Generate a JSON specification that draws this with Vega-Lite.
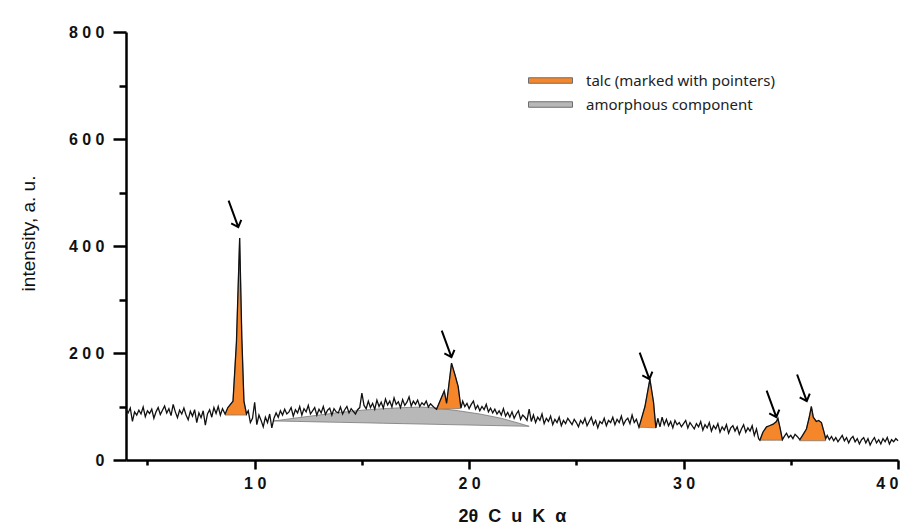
{
  "$schema": "https://vega.github.io/schema/vega-lite/v6.json",
  "width": 772,
  "height": 428,
  "autosize": {"type": "none"},
  "padding": {"left": 126, "top": 32, "right": 9, "bottom": 71},
  "background": "white",
  "config": {"view": {"stroke": null}},
  "datasets": {
    "line": [
      {"t":4.0,"i":95},{"t":4.1,"i":88},{"t":4.2,"i":97},{"t":4.3,"i":72},{"t":4.4,"i":90},{"t":4.5,"i":84},{"t":4.6,"i":93},{"t":4.7,"i":86},{"t":4.8,"i":99},{"t":4.9,"i":81},
      {"t":5.0,"i":92},{"t":5.1,"i":87},{"t":5.2,"i":95},{"t":5.3,"i":78},{"t":5.4,"i":90},{"t":5.5,"i":98},{"t":5.6,"i":85},{"t":5.7,"i":93},{"t":5.8,"i":101},{"t":5.9,"i":88},
      {"t":6.0,"i":96},{"t":6.1,"i":83},{"t":6.2,"i":104},{"t":6.3,"i":90},{"t":6.4,"i":79},{"t":6.5,"i":93},{"t":6.6,"i":86},{"t":6.7,"i":97},{"t":6.8,"i":84},{"t":6.9,"i":75},
      {"t":7.0,"i":91},{"t":7.1,"i":82},{"t":7.2,"i":94},{"t":7.3,"i":70},{"t":7.4,"i":88},{"t":7.5,"i":79},{"t":7.6,"i":92},{"t":7.7,"i":65},{"t":7.8,"i":86},{"t":7.9,"i":94},
      {"t":8.0,"i":80},{"t":8.1,"i":98},{"t":8.2,"i":87},{"t":8.3,"i":100},{"t":8.4,"i":84},{"t":8.5,"i":96},{"t":8.62,"i":86},{"t":8.75,"i":98},{"t":8.99,"i":110},{"t":9.15,"i":220},
      {"t":9.3,"i":415},{"t":9.4,"i":230},{"t":9.5,"i":110},{"t":9.62,"i":86},{"t":9.7,"i":92},{"t":9.8,"i":70},{"t":9.9,"i":78},
      {"t":10.0,"i":108},{"t":10.1,"i":66},{"t":10.2,"i":84},{"t":10.3,"i":74},{"t":10.4,"i":62},{"t":10.5,"i":80},{"t":10.6,"i":70},{"t":10.7,"i":86},{"t":10.8,"i":60},{"t":10.9,"i":78},
      {"t":11.0,"i":88},{"t":11.1,"i":80},{"t":11.2,"i":92},{"t":11.3,"i":84},{"t":11.4,"i":95},{"t":11.5,"i":86},{"t":11.6,"i":90},{"t":11.7,"i":98},{"t":11.8,"i":82},{"t":11.9,"i":94},
      {"t":12.0,"i":88},{"t":12.1,"i":100},{"t":12.2,"i":84},{"t":12.3,"i":96},{"t":12.4,"i":90},{"t":12.5,"i":102},{"t":12.6,"i":86},{"t":12.7,"i":92},{"t":12.8,"i":98},{"t":12.9,"i":84},
      {"t":13.0,"i":95},{"t":13.1,"i":88},{"t":13.2,"i":100},{"t":13.3,"i":85},{"t":13.4,"i":93},{"t":13.5,"i":97},{"t":13.6,"i":84},{"t":13.7,"i":96},{"t":13.8,"i":90},{"t":13.9,"i":88},
      {"t":14.0,"i":99},{"t":14.1,"i":86},{"t":14.2,"i":94},{"t":14.3,"i":100},{"t":14.4,"i":88},{"t":14.5,"i":96},{"t":14.6,"i":91},{"t":14.7,"i":86},{"t":14.8,"i":94},{"t":14.9,"i":98},
      {"t":15.0,"i":125},{"t":15.1,"i":102},{"t":15.2,"i":96},{"t":15.3,"i":110},{"t":15.4,"i":98},{"t":15.5,"i":106},{"t":15.6,"i":95},{"t":15.7,"i":112},{"t":15.8,"i":100},{"t":15.9,"i":108},
      {"t":16.0,"i":97},{"t":16.1,"i":114},{"t":16.2,"i":103},{"t":16.3,"i":110},{"t":16.4,"i":99},{"t":16.5,"i":116},{"t":16.6,"i":104},{"t":16.7,"i":109},{"t":16.8,"i":98},{"t":16.9,"i":113},
      {"t":17.0,"i":102},{"t":17.1,"i":108},{"t":17.2,"i":118},{"t":17.3,"i":101},{"t":17.4,"i":110},{"t":17.5,"i":104},{"t":17.6,"i":112},{"t":17.7,"i":100},{"t":17.8,"i":107},{"t":17.9,"i":103},
      {"t":18.0,"i":110},{"t":18.1,"i":99},{"t":18.2,"i":105},{"t":18.3,"i":101},{"t":18.4,"i":97},{"t":18.48,"i":95},{"t":18.84,"i":129},{"t":18.95,"i":106},{"t":19.18,"i":181},{"t":19.35,"i":158},
      {"t":19.49,"i":137},{"t":19.62,"i":97},{"t":19.7,"i":110},{"t":19.8,"i":100},{"t":19.9,"i":106},
      {"t":20.0,"i":96},{"t":20.1,"i":104},{"t":20.2,"i":110},{"t":20.3,"i":95},{"t":20.4,"i":102},{"t":20.5,"i":92},{"t":20.6,"i":100},{"t":20.7,"i":94},{"t":20.8,"i":104},{"t":20.9,"i":90},
      {"t":21.0,"i":97},{"t":21.1,"i":88},{"t":21.2,"i":95},{"t":21.3,"i":86},{"t":21.4,"i":92},{"t":21.5,"i":84},{"t":21.6,"i":96},{"t":21.7,"i":82},{"t":21.8,"i":89},{"t":21.9,"i":80},
      {"t":22.0,"i":90},{"t":22.1,"i":78},{"t":22.2,"i":86},{"t":22.3,"i":92},{"t":22.4,"i":76},{"t":22.5,"i":84},{"t":22.6,"i":80},{"t":22.7,"i":74},{"t":22.8,"i":95},{"t":22.9,"i":72},
      {"t":23.0,"i":84},{"t":23.1,"i":70},{"t":23.2,"i":80},{"t":23.3,"i":74},{"t":23.4,"i":86},{"t":23.5,"i":68},{"t":23.6,"i":78},{"t":23.7,"i":72},{"t":23.8,"i":82},{"t":23.9,"i":66},
      {"t":24.0,"i":76},{"t":24.1,"i":70},{"t":24.2,"i":80},{"t":24.3,"i":64},{"t":24.4,"i":74},{"t":24.5,"i":68},{"t":24.6,"i":78},{"t":24.7,"i":72},{"t":24.8,"i":66},{"t":24.9,"i":76},
      {"t":25.0,"i":70},{"t":25.1,"i":62},{"t":25.2,"i":74},{"t":25.3,"i":68},{"t":25.4,"i":78},{"t":25.5,"i":64},{"t":25.6,"i":72},{"t":25.7,"i":80},{"t":25.8,"i":66},{"t":25.9,"i":74},
      {"t":26.0,"i":60},{"t":26.1,"i":72},{"t":26.2,"i":68},{"t":26.3,"i":78},{"t":26.4,"i":64},{"t":26.5,"i":74},{"t":26.6,"i":70},{"t":26.7,"i":80},{"t":26.8,"i":66},{"t":26.9,"i":76},
      {"t":27.0,"i":70},{"t":27.1,"i":82},{"t":27.2,"i":66},{"t":27.3,"i":74},{"t":27.4,"i":78},{"t":27.5,"i":68},{"t":27.6,"i":84},{"t":27.7,"i":70},{"t":27.8,"i":76},{"t":27.92,"i":61},
      {"t":28.2,"i":100},{"t":28.43,"i":151},{"t":28.6,"i":108},{"t":28.66,"i":81},{"t":28.71,"i":60},{"t":28.8,"i":78},{"t":28.9,"i":62},
      {"t":29.0,"i":80},{"t":29.1,"i":66},{"t":29.2,"i":76},{"t":29.3,"i":64},{"t":29.4,"i":72},{"t":29.5,"i":60},{"t":29.6,"i":74},{"t":29.7,"i":66},{"t":29.8,"i":70},{"t":29.9,"i":62},
      {"t":30.0,"i":68},{"t":30.1,"i":74},{"t":30.2,"i":60},{"t":30.3,"i":70},{"t":30.4,"i":64},{"t":30.5,"i":58},{"t":30.6,"i":68},{"t":30.7,"i":62},{"t":30.8,"i":72},{"t":30.9,"i":56},
      {"t":31.0,"i":66},{"t":31.1,"i":60},{"t":31.2,"i":70},{"t":31.3,"i":54},{"t":31.4,"i":64},{"t":31.5,"i":58},{"t":31.6,"i":68},{"t":31.7,"i":52},{"t":31.8,"i":62},{"t":31.9,"i":56},
      {"t":32.0,"i":66},{"t":32.1,"i":50},{"t":32.2,"i":60},{"t":32.3,"i":64},{"t":32.4,"i":54},{"t":32.5,"i":62},{"t":32.6,"i":48},{"t":32.7,"i":58},{"t":32.8,"i":66},{"t":32.9,"i":52},
      {"t":33.0,"i":60},{"t":33.1,"i":54},{"t":33.2,"i":64},{"t":33.3,"i":46},{"t":33.4,"i":58},{"t":33.5,"i":40},{"t":33.56,"i":37},{"t":33.7,"i":52},{"t":33.87,"i":62},{"t":34.0,"i":64},
      {"t":34.18,"i":67},{"t":34.33,"i":72},{"t":34.4,"i":78},{"t":34.5,"i":60},{"t":34.61,"i":38},{"t":34.7,"i":44},{"t":34.8,"i":50},{"t":34.9,"i":42},
      {"t":35.0,"i":46},{"t":35.1,"i":40},{"t":35.2,"i":48},{"t":35.3,"i":44},{"t":35.42,"i":38},{"t":35.55,"i":46},{"t":35.73,"i":58},{"t":35.85,"i":78},{"t":35.96,"i":100},{"t":36.05,"i":80},
      {"t":36.19,"i":72},{"t":36.3,"i":74},{"t":36.43,"i":70},{"t":36.55,"i":52},{"t":36.63,"i":40},{"t":36.7,"i":46},{"t":36.8,"i":38},{"t":36.9,"i":44},
      {"t":37.0,"i":36},{"t":37.1,"i":42},{"t":37.2,"i":34},{"t":37.3,"i":40},{"t":37.4,"i":46},{"t":37.5,"i":36},{"t":37.6,"i":42},{"t":37.7,"i":32},{"t":37.8,"i":40},{"t":37.9,"i":44},
      {"t":38.0,"i":34},{"t":38.1,"i":40},{"t":38.2,"i":30},{"t":38.3,"i":38},{"t":38.4,"i":42},{"t":38.5,"i":32},{"t":38.6,"i":40},{"t":38.7,"i":28},{"t":38.8,"i":36},{"t":38.9,"i":42},
      {"t":39.0,"i":32},{"t":39.1,"i":38},{"t":39.2,"i":30},{"t":39.3,"i":40},{"t":39.4,"i":34},{"t":39.5,"i":42},{"t":39.6,"i":30},{"t":39.7,"i":38},{"t":39.8,"i":34},{"t":39.9,"i":40},
      {"t":40.0,"i":36}
    ],
    "fills": [
      {"p":"a","c":"amorphous component","t":10.9,"top":73,"base":73},
      {"p":"a","c":"amorphous component","t":12,"top":79,"base":72.1},
      {"p":"a","c":"amorphous component","t":13,"top":84,"base":71.2},
      {"p":"a","c":"amorphous component","t":14,"top":89,"base":70.4},
      {"p":"a","c":"amorphous component","t":15,"top":93,"base":69.6},
      {"p":"a","c":"amorphous component","t":16,"top":96,"base":68.7},
      {"p":"a","c":"amorphous component","t":17,"top":98,"base":67.9},
      {"p":"a","c":"amorphous component","t":17.8,"top":99,"base":67.2},
      {"p":"a","c":"amorphous component","t":18.5,"top":97,"base":66.6},
      {"p":"a","c":"amorphous component","t":19.5,"top":92,"base":65.8},
      {"p":"a","c":"amorphous component","t":20.5,"top":86,"base":64.9},
      {"p":"a","c":"amorphous component","t":21.5,"top":78,"base":64.1},
      {"p":"a","c":"amorphous component","t":22.3,"top":69,"base":63.4},
      {"p":"a","c":"amorphous component","t":22.8,"top":63,"base":63},
      {"p":"p1","c":"talc (marked with pointers)","t":8.62,"top":84,"base":84},
      {"p":"p1","c":"talc (marked with pointers)","t":8.75,"top":98,"base":84},
      {"p":"p1","c":"talc (marked with pointers)","t":8.99,"top":110,"base":84},
      {"p":"p1","c":"talc (marked with pointers)","t":9.15,"top":220,"base":84},
      {"p":"p1","c":"talc (marked with pointers)","t":9.3,"top":415,"base":84},
      {"p":"p1","c":"talc (marked with pointers)","t":9.4,"top":230,"base":84},
      {"p":"p1","c":"talc (marked with pointers)","t":9.5,"top":110,"base":84},
      {"p":"p1","c":"talc (marked with pointers)","t":9.62,"top":84,"base":84},
      {"p":"p2","c":"talc (marked with pointers)","t":18.48,"top":95,"base":95},
      {"p":"p2","c":"talc (marked with pointers)","t":18.84,"top":129,"base":95.4},
      {"p":"p2","c":"talc (marked with pointers)","t":18.95,"top":106,"base":95.5},
      {"p":"p2","c":"talc (marked with pointers)","t":19.18,"top":181,"base":95.7},
      {"p":"p2","c":"talc (marked with pointers)","t":19.35,"top":158,"base":95.9},
      {"p":"p2","c":"talc (marked with pointers)","t":19.49,"top":137,"base":96},
      {"p":"p2","c":"talc (marked with pointers)","t":19.62,"top":97,"base":97},
      {"p":"p3","c":"talc (marked with pointers)","t":27.92,"top":61,"base":61},
      {"p":"p3","c":"talc (marked with pointers)","t":28.2,"top":100,"base":61},
      {"p":"p3","c":"talc (marked with pointers)","t":28.43,"top":151,"base":60.5},
      {"p":"p3","c":"talc (marked with pointers)","t":28.6,"top":108,"base":60.2},
      {"p":"p3","c":"talc (marked with pointers)","t":28.66,"top":81,"base":60.1},
      {"p":"p3","c":"talc (marked with pointers)","t":28.71,"top":60,"base":60},
      {"p":"p4","c":"talc (marked with pointers)","t":33.56,"top":37,"base":37},
      {"p":"p4","c":"talc (marked with pointers)","t":33.7,"top":52,"base":37},
      {"p":"p4","c":"talc (marked with pointers)","t":33.87,"top":62,"base":37},
      {"p":"p4","c":"talc (marked with pointers)","t":34.0,"top":64,"base":37},
      {"p":"p4","c":"talc (marked with pointers)","t":34.18,"top":67,"base":37},
      {"p":"p4","c":"talc (marked with pointers)","t":34.33,"top":72,"base":37},
      {"p":"p4","c":"talc (marked with pointers)","t":34.4,"top":78,"base":37},
      {"p":"p4","c":"talc (marked with pointers)","t":34.5,"top":60,"base":37},
      {"p":"p4","c":"talc (marked with pointers)","t":34.61,"top":37,"base":37},
      {"p":"p5","c":"talc (marked with pointers)","t":35.42,"top":36,"base":36},
      {"p":"p5","c":"talc (marked with pointers)","t":35.55,"top":46,"base":36},
      {"p":"p5","c":"talc (marked with pointers)","t":35.73,"top":58,"base":36},
      {"p":"p5","c":"talc (marked with pointers)","t":35.85,"top":78,"base":36},
      {"p":"p5","c":"talc (marked with pointers)","t":35.96,"top":100,"base":36},
      {"p":"p5","c":"talc (marked with pointers)","t":36.05,"top":80,"base":36},
      {"p":"p5","c":"talc (marked with pointers)","t":36.19,"top":72,"base":36},
      {"p":"p5","c":"talc (marked with pointers)","t":36.3,"top":74,"base":36},
      {"p":"p5","c":"talc (marked with pointers)","t":36.43,"top":70,"base":36},
      {"p":"p5","c":"talc (marked with pointers)","t":36.55,"top":52,"base":36},
      {"p":"p5","c":"talc (marked with pointers)","t":36.63,"top":36,"base":36}
    ],
    "arrows": [
      {"t":9.01,"i":460},{"t":18.95,"i":217},{"t":28.18,"i":176},{"t":34.1,"i":105},{"t":35.52,"i":135}
    ]
  },
  "layer": [
    {
      "data": {"name": "fills"},
      "mark": {"type": "area", "stroke": "#7a7a7a", "strokeWidth": 0.8, "opacity": 1},
      "encoding": {
        "x": {"field": "t", "type": "quantitative", "scale": {"domain": [4, 40], "nice": false, "zero": false},
          "axis": {"orient": "bottom", "values": [10, 20, 30, 40], "grid": false, "domainColor": "black", "domainWidth": 2.5, "tickColor": "black", "tickSize": 9, "tickWidth": 2.5,
            "labelFont": "Liberation Sans", "labelFontWeight": "bold", "labelFontSize": 16, "labelColor": "#111", "labelPadding": 6,
            "labelExpr": "join(split(datum.label,''),' ')",
            "title": "2θ\u00a0\u00a0C\u00a0\u00a0u\u00a0\u00a0K\u00a0\u00a0α", "titleFont": "Liberation Sans", "titleFontWeight": "bold", "titleFontSize": 18, "titleColor": "#111", "titlePadding": 16}},
        "y": {"field": "top", "type": "quantitative", "scale": {"domain": [0, 800], "nice": false},
          "axis": {"orient": "left", "values": [0, 200, 400, 600, 800], "grid": false, "domainColor": "black", "domainWidth": 2.5, "tickColor": "black", "tickSize": 13, "tickWidth": 2.5,
            "labelFont": "Liberation Sans", "labelFontWeight": "bold", "labelFontSize": 16, "labelColor": "#111", "labelPadding": 9,
            "labelExpr": "join(split(datum.label,''),' ')",
            "title": "intensity, a. u.", "titleFont": "Liberation Sans", "titleFontWeight": "normal", "titleFontSize": 19, "titleColor": "#111", "titlePadding": 30, "titleY": 201}},
        "y2": {"field": "base"},
        "detail": {"field": "p"},
        "color": {"field": "c", "type": "nominal",
          "scale": {"domain": ["talc (marked with pointers)", "amorphous component"], "range": ["#f5862a", "#b8b8b8"]},
          "legend": {"orient": "none", "legendX": 413, "legendY": 37, "title": null, "padding": 0,
            "symbolType": "M-2,-0.25H2V0.25H-2Z", "symbolSize": 484, "symbolStrokeColor": "#6e6e6e", "symbolStrokeWidth": 1, "symbolOpacity": 1,
            "labelFont": "Noto Sans", "labelFontSize": 15, "labelColor": "#222", "labelOffset": 24, "labelLimit": 400, "rowPadding": 4}}
      }
    },
    {
      "data": {"name": "line"},
      "mark": {"type": "line", "color": "#111", "strokeWidth": 1.3},
      "encoding": {
        "x": {"field": "t", "type": "quantitative", "axis": null},
        "y": {"field": "i", "type": "quantitative", "axis": null}
      }
    },
    {
      "data": {"name": "arrows"},
      "mark": {"type": "point", "shape": "M0,-1L0,1M-0.38,0.58L0,1L0.38,0.58", "filled": false, "stroke": "black", "strokeWidth": 2, "size": 800, "angle": -20, "opacity": 1},
      "encoding": {
        "x": {"field": "t", "type": "quantitative",
          "axis": {"orient": "bottom", "values": [5, 15, 25, 35], "labels": false, "domain": false, "grid": false, "tickColor": "black", "tickSize": 5, "tickWidth": 2.5, "title": null}},
        "y": {"field": "i", "type": "quantitative",
          "axis": {"orient": "left", "values": [100, 300, 500, 700], "labels": false, "domain": false, "grid": false, "tickColor": "black", "tickSize": 7, "tickWidth": 2.5, "title": null}}
      }
    }
  ],
  "resolve": {"axis": {"x": "independent", "y": "independent"}}
}
